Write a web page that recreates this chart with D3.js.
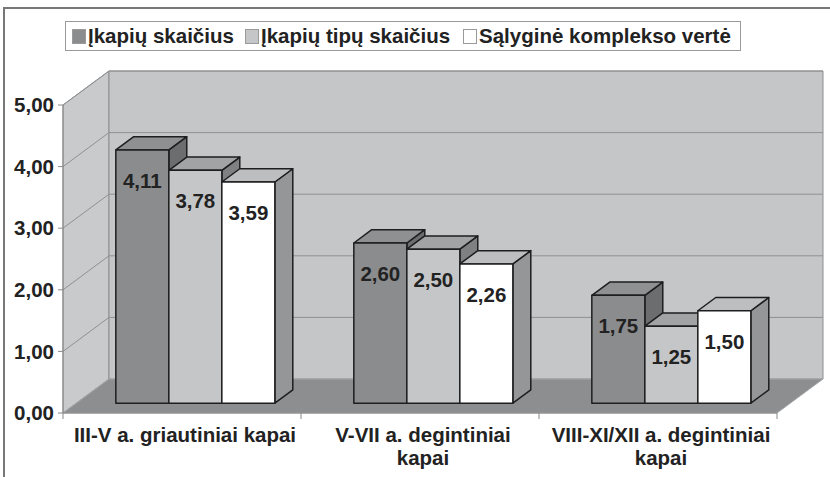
<!DOCTYPE html>
<html lang="lt">
<head>
<meta charset="UTF-8">
<title>Įkapės</title>
<script src="https://cdn.jsdelivr.net/npm/d3@7"></script>
<style>
    body { margin: 0; background: #fff; }
    svg { display: block; font-family: "Liberation Sans", Arial, sans-serif; font-weight: bold; }
</style>
</head>
<body>
<svg width="830" height="477"></svg>
<script>
const categories = [
    ["III-V a. griautiniai kapai"],
    ["V-VII a. degintiniai", "kapai"],
    ["VIII-XI/XII a. degintiniai", "kapai"]
];
const seriesNames = ["Įkapių skaičius", "Įkapių tipų skaičius", "Sąlyginė komplekso vertė"];
const burialCount = [4.11, 2.60, 1.75];
const burialTypes = [3.78, 2.50, 1.25];
const complexValue = [3.59, 2.26, 1.50];
const yTicks = [0, 1, 2, 3, 4, 5];

const seriesValues = [burialCount, burialTypes, complexValue];
// front, top, side colours for each series
const palette = [
    { front: "#8b8c8e", top: "#8f9092", side: "#6c6d6f", swatch: "#8b8c8e" },
    { front: "#c5c6c8", top: "#a2a3a5", side: "#7f8082", swatch: "#c5c6c8" },
    { front: "#ffffff", top: "#bdbec0", side: "#959698", swatch: "#ffffff" }
];

const svg = d3.select("svg");
const fmt = v => d3.format(".2f")(v).replace(".", ",");

// plot box (front plane) and depth of the 3d floor
const plotLeft = 63, plotRight = 777, plotBottom = 413, plotTop = 105;
const DX = 46, DY = -34;

const y = d3.scaleLinear().domain([0, 5]).range([plotBottom, plotTop]);
const x = d3.scaleBand().domain(d3.range(categories.length)).range([plotLeft, plotRight]);
const xs = d3.scaleBand().domain(d3.range(seriesNames.length))
    .range([0, x.bandwidth()]).paddingInner(0).paddingOuter(0.745);
// depth position of bars (fraction of floor depth)
const zFront = 0.29, zBack = 0.68;
const off = z => [DX * z, DY * z];

// frame
svg.append("rect")
    .attr("x", 4).attr("y", 8).attr("width", 900).attr("height", 600)
    .attr("fill", "none").attr("stroke", "#777").attr("stroke-width", 2);

// legend
const legend = svg.append("g");
legend.append("rect")
    .attr("x", 65.5).attr("y", 21.5).attr("width", 675).attr("height", 29)
    .attr("fill", "#fff").attr("stroke", "#9a9a9a");
const legendX = [72, 245, 463];
seriesNames.forEach((name, i) => {
    legend.append("rect")
        .attr("x", legendX[i] + 0.5).attr("y", 29.5).attr("width", 13).attr("height", 14)
        .attr("fill", palette[i].swatch).attr("stroke", "#9a9a9a");
    legend.append("text")
        .attr("x", legendX[i] + 16).attr("y", 43)
        .attr("font-size", 20.5).attr("fill", "#222")
        .text(name);
});

// walls
const yTop = y(5);
svg.append("polygon")
    .attr("points", [[plotLeft, plotBottom], [plotLeft, yTop], [plotLeft + DX, yTop + DY], [plotLeft + DX, plotBottom + DY]].join(" "))
    .attr("fill", "#c9cacc").attr("stroke", "#8d8e90");
svg.append("polygon")
    .attr("points", [[plotLeft + DX, yTop + DY], [plotRight + DX, yTop + DY], [plotRight + DX, plotBottom + DY], [plotLeft + DX, plotBottom + DY]].join(" "))
    .attr("fill", "#c5c6c8").attr("stroke", "#8d8e90");

// gridlines
const grid = svg.append("g").attr("stroke", "#8f9092").attr("fill", "none");
yTicks.slice(1).forEach(t => {
    grid.append("path")
        .attr("d", `M${plotLeft},${y(t)}L${plotLeft + DX},${y(t) + DY}L${plotRight + DX},${y(t) + DY}`);
});

// floor
svg.append("polygon")
    .attr("points", [[plotLeft, plotBottom], [plotLeft + DX, plotBottom + DY], [plotRight + DX, plotBottom + DY], [plotRight, plotBottom]].join(" "))
    .attr("fill", "#8d8e90").attr("stroke", "#a5a6a8");

// axes
const axis = svg.append("g").attr("stroke", "#888").attr("fill", "none");
axis.append("path").attr("d", `M${plotLeft},${plotTop}V${plotBottom}H${plotRight}`);
yTicks.forEach(t => axis.append("path").attr("d", `M${plotLeft - 5},${y(t)}H${plotLeft}`));
d3.range(categories.length + 1).forEach(i => {
    const cx = i < categories.length ? x(i) : plotRight;
    axis.append("path").attr("d", `M${cx},${plotBottom}V${plotBottom + 6}`);
});

svg.append("g").selectAll("text").data(yTicks).join("text")
    .attr("x", 54).attr("y", d => y(d)).attr("dy", "0.35em")
    .attr("text-anchor", "end").attr("font-size", 20.5).attr("fill", "#222")
    .text(fmt);

// bars
const [fx, fy] = off(zFront);
const [bx, by] = off(zBack - zFront);
const bars = svg.append("g").attr("stroke", "#1e1e1e").attr("stroke-width", 1.5).attr("stroke-linejoin", "round");
categories.forEach((cat, ci) => {
    seriesValues.forEach((vals, si) => {
        const v = vals[ci];
        const x0 = x(ci) + xs(si) + fx, x1 = x0 + xs.bandwidth();
        const y0 = y(0) + fy, y1 = y(v) + fy;
        const g = bars.append("g");
        g.append("polygon")
            .attr("points", [[x1, y1], [x1 + bx, y1 + by], [x1 + bx, y0 + by], [x1, y0]].join(" "))
            .attr("fill", palette[si].side);
        g.append("polygon")
            .attr("points", [[x0, y1], [x0 + bx, y1 + by], [x1 + bx, y1 + by], [x1, y1]].join(" "))
            .attr("fill", palette[si].top);
        g.append("rect")
            .attr("x", x0).attr("y", y1).attr("width", x1 - x0).attr("height", y0 - y1)
            .attr("fill", palette[si].front);
        g.append("text")
            .attr("x", (x0 + x1) / 2).attr("y", y1 + 38)
            .attr("text-anchor", "middle").attr("font-size", 20.5)
            .attr("stroke", "none").attr("fill", "#222")
            .text(fmt(v));
    });
});

// category labels
svg.append("g").selectAll("text").data(categories).join("text")
    .attr("x", (d, i) => x(i) + x.bandwidth() / 2 + 3)
    .attr("y", 442)
    .attr("text-anchor", "middle").attr("font-size", 20.5).attr("fill", "#222")
    .each(function (lines) {
        d3.select(this).selectAll("tspan").data(lines).join("tspan")
            .attr("x", d3.select(this).attr("x"))
            .attr("dy", (d, j) => j ? 23 : 0)
            .text(d => d);
    });
</script>
</body>
</html>
